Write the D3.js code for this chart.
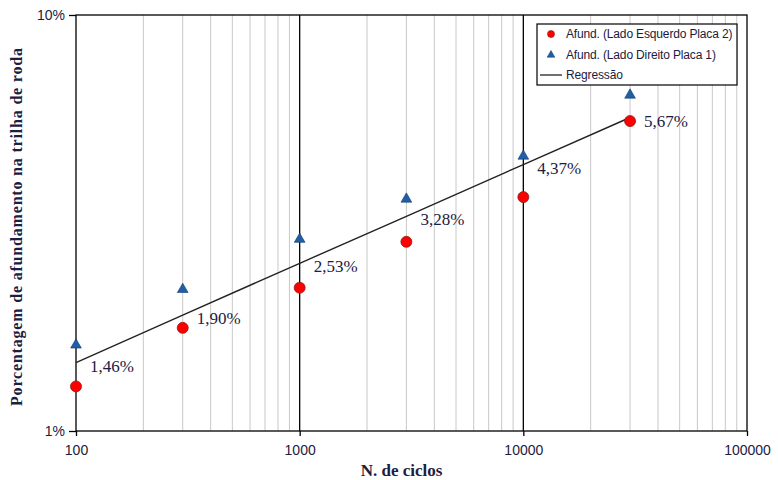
<!DOCTYPE html>
<html>
<head>
<meta charset="utf-8">
<script src="https://cdn.jsdelivr.net/npm/d3@7"></script>
<style>
  body { margin: 0; background: #fff; }
</style>
</head>
<body>
<div id="chart"></div>
<script>
// data
var cycles = [100, 300, 1000, 3000, 10000, 30000];
var esquerdo = [1.28, 1.77, 2.21, 2.85, 3.65, 5.56];   // red circles (%)
var direito = [1.61, 2.19, 2.89, 3.61, 4.58, 6.42];    // blue triangles (%)
var regressao = [1.46, 1.90, 2.53, 3.28, 4.37, 5.67];  // regression labels (%)
var xTicks = [100, 1000, 10000, 100000];
var yTicks = [1, 10];

var W = 778, H = 480;
var margin = {top: 15, right: 31, bottom: 49, left: 76};
var width = W - margin.left - margin.right,
    height = H - margin.top - margin.bottom;

var svg = d3.select("#chart").append("svg")
  .attr("width", W).attr("height", H);

var g = svg.append("g")
  .attr("transform", "translate(" + margin.left + "," + margin.top + ")");

var x = d3.scaleLog().domain([100, 100000]).range([0, width]);
var y = d3.scaleLog().domain([1, 10]).range([height, 0]);

var textCol = "#1c2040";

// minor grid lines
var minor = [];
[100, 1000, 10000].forEach(function(dec) {
  for (var k = 2; k <= 9; k++) minor.push(dec * k);
});
g.selectAll(".minor").data(minor).enter().append("line")
  .attr("x1", d => x(d)).attr("x2", d => x(d))
  .attr("y1", 0).attr("y2", height)
  .attr("stroke", "#c8c8c8").attr("stroke-width", 1);

// major grid lines
g.selectAll(".major").data([1000, 10000]).enter().append("line")
  .attr("x1", d => x(d)).attr("x2", d => x(d))
  .attr("y1", 0).attr("y2", height)
  .attr("stroke", "#000").attr("stroke-width", 1.3);

// frame
g.append("rect").attr("width", width).attr("height", height)
  .attr("fill", "none").attr("stroke", "#000").attr("stroke-width", 1.3);

// axes
var xAxis = g.append("g").attr("transform", "translate(0," + height + ")")
  .call(d3.axisBottom(x).tickValues(xTicks).tickFormat(d3.format("d")).tickSize(5).tickPadding(9));
var yAxis = g.append("g")
  .call(d3.axisLeft(y).tickValues(yTicks).tickFormat(d => d + "%").tickSize(7).tickPadding(4));
[xAxis, yAxis].forEach(function(a) {
  a.select(".domain").remove();
  a.selectAll("line").attr("stroke", "#000").attr("stroke-width", 1.3);
  a.selectAll("text").attr("fill", textCol)
    .style("font-family", "Liberation Sans, Arial, sans-serif").style("font-size", "14px");
});

// regression line
var line = d3.line().x((d, i) => x(cycles[i])).y(d => y(d));
g.append("path").datum(regressao)
  .attr("d", line).attr("fill", "none").attr("stroke", "#222").attr("stroke-width", 1.4);

// regression labels
g.selectAll(".lbl").data(regressao).enter().append("text")
  .attr("x", (d, i) => x(cycles[i]) + 14)
  .attr("y", d => y(d) + 9)
  .attr("fill", textCol)
  .style("font-family", "Liberation Serif, Times New Roman, serif").style("font-size", "17px")
  .text(d => d.toFixed(2).replace(".", ",") + "%");

// circles
g.selectAll(".circ").data(esquerdo).enter().append("circle")
  .attr("cx", (d, i) => x(cycles[i])).attr("cy", d => y(d))
  .attr("r", 5.5).attr("fill", "#ff0000").attr("stroke", "#8b1a1a").attr("stroke-width", 0.8);

// triangles
var tri = d3.symbol().type(d3.symbolTriangle).size(50);
g.selectAll(".tri").data(direito).enter().append("path")
  .attr("d", tri)
  .attr("transform", (d, i) => "translate(" + x(cycles[i]) + "," + y(d) + ")")
  .attr("fill", "#1f5fa8").attr("stroke", "#123a6a").attr("stroke-width", 0.6);

// legend
var lg = svg.append("g").attr("transform", "translate(537,24)");
lg.append("rect").attr("width", 200).attr("height", 61)
  .attr("fill", "#fff").attr("stroke", "#000").attr("stroke-width", 1.2);
var lfont = "Liberation Sans, Arial, sans-serif";
lg.append("circle").attr("cx", 14).attr("cy", 10).attr("r", 3.5)
  .attr("fill", "#ff0000").attr("stroke", "#8b1a1a").attr("stroke-width", 0.6);
lg.append("path").attr("d", d3.symbol().type(d3.symbolTriangle).size(26))
  .attr("transform", "translate(14,31)")
  .attr("fill", "#1f5fa8").attr("stroke", "#123a6a").attr("stroke-width", 0.5);
lg.append("line").attr("x1", 3).attr("x2", 25).attr("y1", 51).attr("y2", 51)
  .attr("stroke", "#222").attr("stroke-width", 1.3);
var legendLabels = ["Afund. (Lado Esquerdo Placa 2)", "Afund. (Lado Direito Placa 1)", "Regressão"];
lg.selectAll(".lt").data(legendLabels).enter().append("text")
  .attr("x", 29).attr("y", (d, i) => 14 + i * 20.5)
  .attr("fill", textCol)
  .style("font-family", lfont).style("font-size", "12px")
  .style("letter-spacing", "-0.15px")
  .text(d => d);

// axis titles
svg.append("text")
  .attr("x", margin.left + width / 2 - 10).attr("y", 476)
  .attr("text-anchor", "middle").attr("fill", textCol)
  .style("font-family", "Liberation Serif, Times New Roman, serif")
  .style("font-size", "17px").style("font-weight", "bold")
  .text("N. de ciclos");

svg.append("text")
  .attr("transform", "translate(22,227) rotate(-90)")
  .attr("text-anchor", "middle").attr("fill", textCol)
  .attr("textLength", 358).attr("lengthAdjust", "spacing")
  .style("font-family", "Liberation Serif, Times New Roman, serif")
  .style("font-size", "16px").style("font-weight", "bold")
  .text("Porcentagem de afundamento na trilha de roda");
</script>
</body>
</html>
